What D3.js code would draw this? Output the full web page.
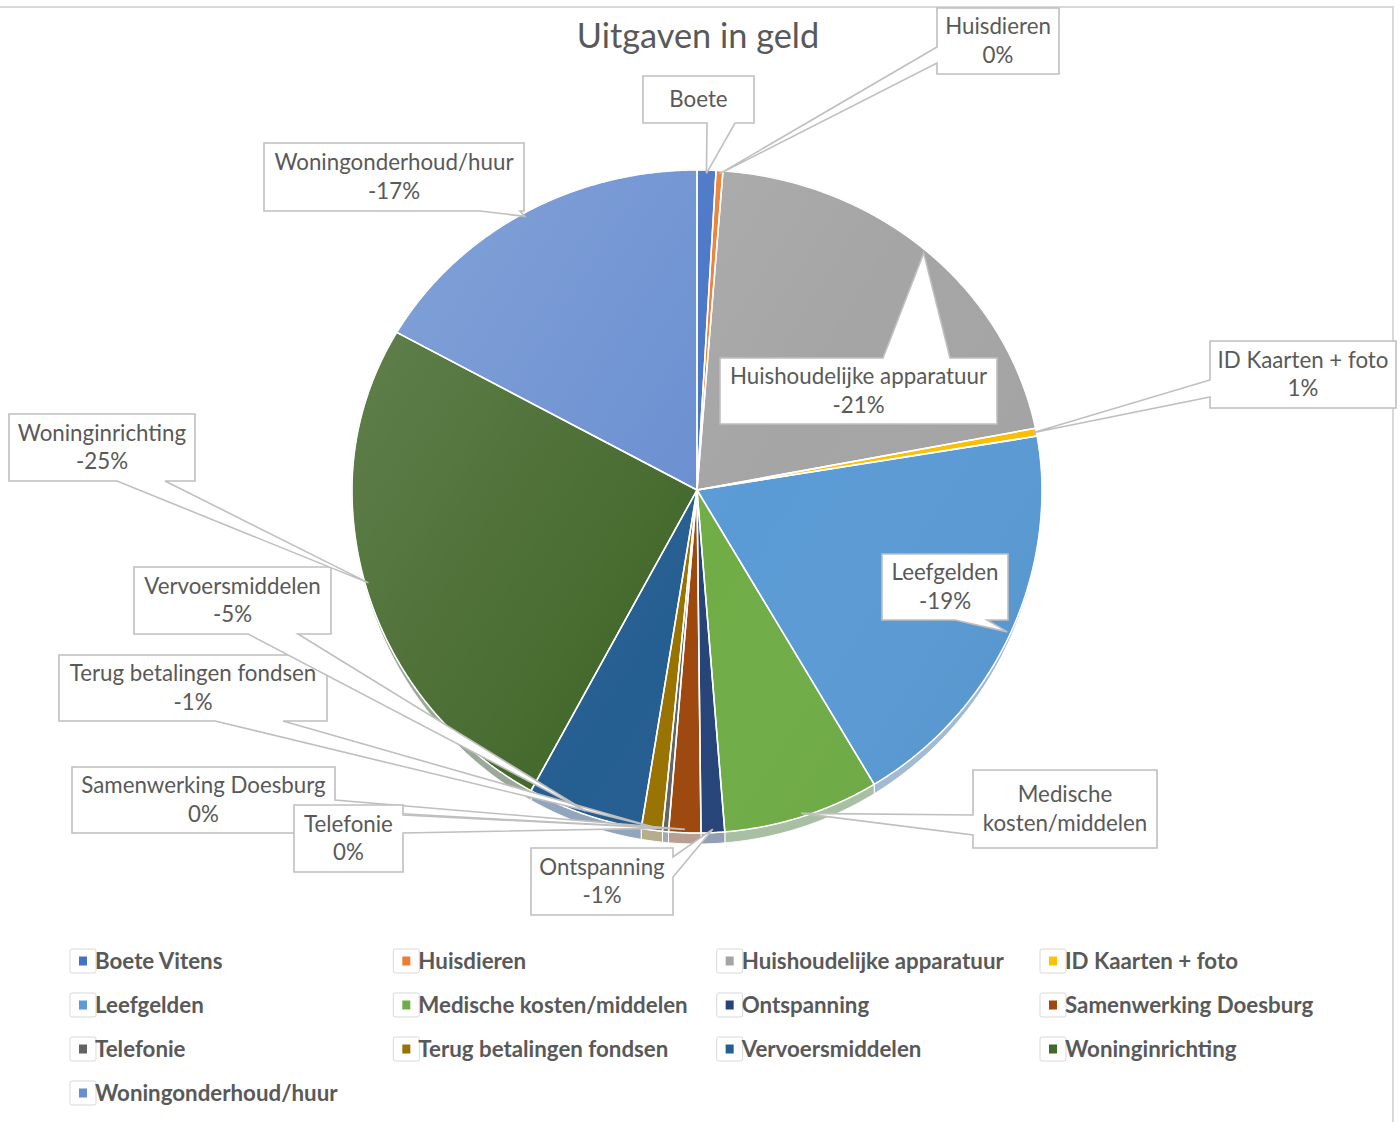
<!DOCTYPE html>
<html>
<head>
<meta charset="utf-8">
<script src="https://cdn.jsdelivr.net/npm/d3@7"></script>
<style>
  html, body { margin: 0; padding: 0; background: #ffffff; }
  svg { display: block; }
</style>
</head>
<body>
<svg id="chart" width="1400" height="1122"></svg>
<script>
// ---------------- DATA ----------------
const categories = [
  "Boete Vitens", "Huisdieren", "Huishoudelijke apparatuur", "ID Kaarten + foto",
  "Leefgelden", "Medische kosten/middelen", "Ontspanning", "Samenwerking Doesburg",
  "Telefonie", "Terug betalingen fondsen", "Vervoersmiddelen", "Woninginrichting",
  "Woningonderhoud/huur"
];
const values = [-0.88, -0.32, -20.7, -0.4, -19.1, -7.3, -1.1, -1.5, -0.28, -0.99, -5.4, -25.2, -16.8];
const labelLines = [
  ["Boete"], ["Huisdieren", "0%"], ["Huishoudelijke apparatuur", "-21%"], ["ID Kaarten + foto", "1%"],
  ["Leefgelden", "-19%"], ["Medische", "kosten/middelen"], ["Ontspanning", "-1%"],
  ["Samenwerking Doesburg", "0%"], ["Telefonie", "0%"], ["Terug betalingen fondsen", "-1%"],
  ["Vervoersmiddelen", "-5%"], ["Woninginrichting", "-25%"], ["Woningonderhoud/huur", "-17%"]
];
const colors = [
  "#4472C4", "#ED7D31", "#A5A5A5", "#FFC000", "#5B9BD5", "#70AD47", "#264478",
  "#9E480E", "#636363", "#997300", "#255E91", "#43682B", "#698ED0"
];
const titleText = "Uitgaven in geld";

// ---------------- LAYOUT (callout boxes) ----------------
const callouts = [
  { box: [643, 76, 111, 47],  side: "bottom", base: [707, 735] },
  { box: [937, 8, 122, 66],   side: "left",   base: [47, 63] },
  { box: [720, 358, 277, 66], side: "top",    base: [883, 950] },
  { box: [1210, 341, 186, 67], side: "left",  base: [380, 397] },
  { box: [882, 554, 126, 66], side: "bottom", base: [955, 987] },
  { box: [973, 770, 184, 78], side: "left",   base: [815, 835] },
  { box: [531, 848, 142, 67], side: "right",  base: [857, 877] },
  { box: [72, 767, 263, 66],  side: "right",  base: [800, 810] },
  { box: [294, 805, 109, 67], side: "right",  base: [815, 833] },
  { box: [59, 655, 268, 66],  side: "bottom", base: [215, 283] },
  { box: [134, 567, 197, 67], side: "bottom", base: [248, 298] },
  { box: [9, 414, 186, 67],   side: "bottom", base: [117, 165] },
  { box: [264, 143, 260, 68], side: "bottom", base: [480, 520] }
];

const cx = 697, cy = 490, RX = 345, RY_TOP = 320, RY_BOT = 343, BEVEL = 11;
const textColor = "#595959";
const font = "Lato, 'Open Sans', sans-serif";

const svg = d3.select("#chart");
const defs = svg.append("defs");

svg.append("rect").attr("x", -5).attr("y", 7).attr("width", 1398).attr("height", 1130)
  .attr("fill", "#fff").attr("stroke", "#d9d9d9").attr("stroke-width", 2);

svg.append("text").attr("x", 698).attr("y", 48).attr("text-anchor", "middle")
  .attr("font-family", font).attr("font-size", 34.3).attr("fill", textColor).text(titleText);

const pie = d3.pie().value(d => Math.abs(d)).sort(null);
const arcs = pie(values);

function rim(a, f = 1) {
  const s = Math.sin(a), c = Math.cos(a);
  const ry = c > 0 ? RY_TOP : RY_BOT;
  return [cx + RX * f * s, cy - ry * f * c];
}
function arcPoints(a0, a1, f = 1, drop = false) {
  const n = Math.max(2, Math.ceil((a1 - a0) / 0.005));
  const pts = [];
  for (let i = 0; i <= n; i++) {
    const a = a0 + (a1 - a0) * i / n;
    const p = rim(a, f);
    if (drop) p[1] += BEVEL * Math.max(0, -Math.cos(a));
    pts.push(p);
  }
  return pts;
}
const line = d3.line();

const gPie = svg.append("g");
gPie.selectAll("path.bevel").data(arcs).join("path")
  .attr("class", "bevel")
  .attr("d", d => {
    const top = arcPoints(d.startAngle, d.endAngle);
    const bot = arcPoints(d.startAngle, d.endAngle, 1, true).reverse();
    return line(top.concat(bot)) + "Z";
  })
  .attr("fill", (d, i) => d3.interpolateRgb(colors[i], "#c4c8d0")(0.68))
  .attr("stroke", "#ffffff").attr("stroke-width", 1);

gPie.selectAll("path.slice").data(arcs).join("path")
  .attr("class", "slice")
  .attr("d", d => line([[cx, cy]].concat(arcPoints(d.startAngle, d.endAngle))) + "Z")
  .attr("fill", (d, i) => colors[i]);

const grad = defs.append("linearGradient").attr("id", "shade")
  .attr("x1", 0).attr("y1", 0.2).attr("x2", 1).attr("y2", 0.8);
grad.append("stop").attr("offset", 0).attr("stop-color", "#ffffff").attr("stop-opacity", 0.16);
grad.append("stop").attr("offset", 0.55).attr("stop-color", "#ffffff").attr("stop-opacity", 0.0);
grad.append("stop").attr("offset", 1).attr("stop-color", "#000000").attr("stop-opacity", 0.04);
gPie.append("path")
  .attr("d", line(arcPoints(0, 2 * Math.PI)) + "Z")
  .attr("fill", "url(#shade)").attr("stroke", "#d4d4d4").attr("stroke-width", 1);

gPie.selectAll("path.sep").data(arcs).join("path")
  .attr("class", "sep")
  .attr("d", d => line([[cx, cy]].concat(arcPoints(d.startAngle, d.endAngle))) + "Z")
  .attr("fill", "none").attr("stroke", "#ffffff").attr("stroke-width", 1.5)
  .attr("stroke-linejoin", "round");

function calloutPath(c, tip) {
  const [x, y, w, h] = c.box;
  const [p, q] = c.base;
  const TL = [x, y], TR = [x + w, y], BR = [x + w, y + h], BL = [x, y + h];
  let pts;
  if (c.side === "top") pts = [TL, [p, y], tip, [q, y], TR, BR, BL];
  else if (c.side === "right") pts = [TL, TR, [x + w, p], tip, [x + w, q], BR, BL];
  else if (c.side === "bottom") pts = [TL, TR, BR, [q, y + h], tip, [p, y + h], BL];
  else pts = [TL, TR, BR, BL, [x, q], tip, [x, p]];
  return line(pts) + "Z";
}
const gLab = svg.append("g");
arcs.forEach((d, i) => {
  const c = callouts[i];
  const mid = (d.startAngle + d.endAngle) / 2;
  const tip = rim(mid, 0.99);
  const g = gLab.append("g");
  g.append("path").attr("d", calloutPath(c, tip))
    .attr("fill", "#ffffff").attr("stroke", "#bfbfbf").attr("stroke-width", 1.6)
    .attr("stroke-linejoin", "miter");
  const [x, y, w, h] = c.box;
  const lines = labelLines[i];
  const lh = 28.5;
  const y0 = y + h / 2 - (lines.length - 1) * lh / 2 + 7.5;
  lines.forEach((t, k) => {
    g.append("text").attr("x", x + w / 2).attr("y", y0 + k * lh)
      .attr("text-anchor", "middle").attr("font-family", font).attr("font-size", 22.3)
      .attr("fill", textColor).text(t);
  });
});

const legX = d3.scalePoint().domain(d3.range(4)).range([70, 1040]);
const legY = d3.scalePoint().domain(d3.range(4)).range([961, 1093]);
const gLeg = svg.append("g");
categories.forEach((name, i) => {
  const col = i % 4, row = Math.floor(i / 4);
  const x = legX(col), y = legY(row);
  const g = gLeg.append("g").attr("transform", `translate(${x},${y})`);
  g.append("rect").attr("x", 0).attr("y", -12).attr("width", 26).attr("height", 24)
    .attr("rx", 2).attr("fill", "#fff").attr("stroke", "#d9d9d9").attr("stroke-width", 1);
  g.append("rect").attr("x", 9).attr("y", -4.5).attr("width", 8).attr("height", 9)
    .attr("fill", colors[i]);
  g.append("text").attr("x", 25).attr("y", 8).attr("font-family", font)
    .attr("font-weight", "bold").attr("font-size", 22.3).attr("fill", textColor).text(name);
});
</script>
</body>
</html>
